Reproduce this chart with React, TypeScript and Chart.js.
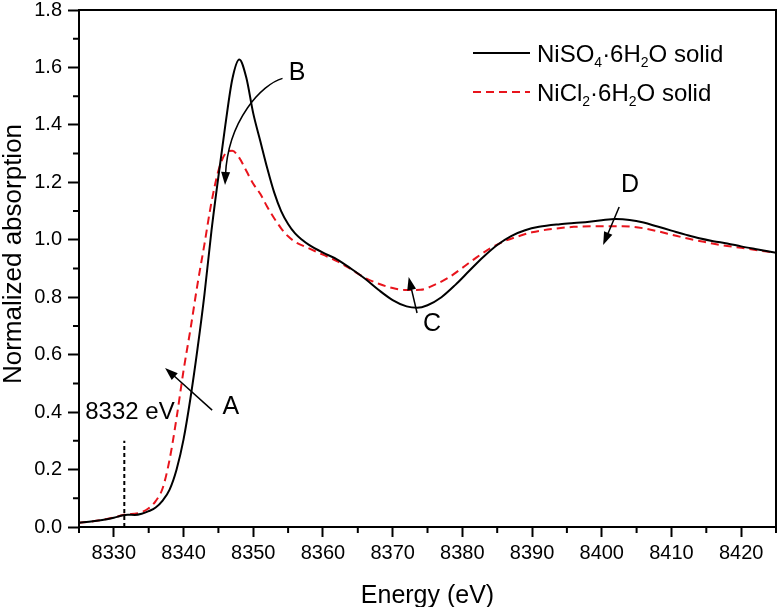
import React, { useEffect, useRef } from 'react';
import { Chart, registerables } from 'chart.js';

Chart.register(...registerables);

const FONT = '"Liberation Sans", Arial, Helvetica, sans-serif';

// ---- data ----
const niso4Energy = [8325, 8327, 8329, 8330, 8331, 8332, 8333, 8334, 8335, 8336, 8337, 8338, 8339, 8340, 8341, 8342, 8343, 8344, 8345, 8346, 8347, 8348, 8349, 8350, 8351, 8352, 8353, 8354, 8355, 8356, 8357, 8358, 8360, 8362, 8364, 8366, 8368, 8370, 8372, 8373.5, 8375, 8377, 8379, 8381, 8383, 8385, 8387, 8389, 8391, 8394, 8397, 8400, 8402, 8404, 8406, 8408, 8410, 8412, 8414, 8416, 8418, 8420, 8422, 8425];
const niso4Abs = [0.015, 0.020, 0.027, 0.032, 0.039, 0.043, 0.042, 0.046, 0.055, 0.068, 0.092, 0.13, 0.20, 0.305, 0.45, 0.62, 0.81, 1.03, 1.22, 1.40, 1.56, 1.628, 1.565, 1.44, 1.345, 1.25, 1.165, 1.10, 1.055, 1.022, 1.0, 0.982, 0.955, 0.932, 0.90, 0.865, 0.825, 0.79, 0.768, 0.763, 0.772, 0.80, 0.843, 0.892, 0.94, 0.982, 1.013, 1.033, 1.045, 1.054, 1.060, 1.068, 1.072, 1.069, 1.060, 1.046, 1.032, 1.018, 1.005, 0.995, 0.987, 0.977, 0.968, 0.955];

const nicl2Energy = [8325, 8327, 8329, 8330, 8331, 8332, 8333, 8334, 8335, 8336, 8337, 8338, 8339, 8340, 8341, 8342, 8343, 8344, 8345, 8346, 8347, 8348, 8349, 8350, 8351, 8352, 8353, 8354, 8355, 8356, 8358, 8360, 8362, 8364, 8366, 8368, 8370, 8372, 8374, 8376, 8378, 8380, 8382, 8384, 8386, 8388, 8390, 8393, 8396, 8400, 8403, 8406, 8408, 8410, 8412, 8414, 8417, 8420, 8425];
const nicl2Abs = [0.015, 0.020, 0.028, 0.033, 0.040, 0.045, 0.046, 0.052, 0.065, 0.09, 0.135, 0.235, 0.38, 0.545, 0.69, 0.845, 0.985, 1.13, 1.24, 1.30, 1.31, 1.285, 1.24, 1.195, 1.16, 1.115, 1.075, 1.04, 1.012, 0.993, 0.97, 0.948, 0.926, 0.898, 0.868, 0.847, 0.832, 0.825, 0.826, 0.843, 0.868, 0.902, 0.938, 0.97, 0.995, 1.012, 1.026, 1.038, 1.045, 1.047, 1.047, 1.04, 1.03, 1.018, 1.006, 0.996, 0.982, 0.972, 0.954];

const xMajorTicks = [8330, 8340, 8350, 8360, 8370, 8380, 8390, 8400, 8410, 8420];
const xMinorTicks = [8325, 8335, 8345, 8355, 8365, 8375, 8385, 8395, 8405, 8415, 8425];
const yMajorTicks = [0, 0.2, 0.4, 0.6, 0.8, 1.0, 1.2, 1.4, 1.6, 1.8];
const yMinorTicks = [0.1, 0.3, 0.5, 0.7, 0.9, 1.1, 1.3, 1.5, 1.7];

const seriesLabels = ['NiSO4·6H2O solid', 'NiCl2·6H2O solid'];

// annotations (data coordinates)
const straightArrows = [
  { label: 'A', lx: 8346.8, ly: 0.418, fx: 8344.1, fy: 0.407, tx: 8337.35, ty: 0.554 },
  { label: 'C', lx: 8375.65, ly: 0.707, fx: 8373.5, fy: 0.745, tx: 8372.3, ty: 0.87 },
  { label: 'D', lx: 8404.05, ly: 1.191, fx: 8402.5, fy: 1.114, tx: 8400.2, ty: 0.982 },
];
const curvedArrow = { label: 'B', lx: 8356.3, ly: 1.581, p0: [8354.2, 1.562], c1: [8351.26, 1.542], c2: [8346.38, 1.417], p3: [8345.95, 1.191] };
const edgeMarker = { x: 8331.5, y0: 0, y1: 0.30, text: '8332 eV', tx: 8325.9, ty: 0.40 };

const RED = '#e8141c';

function drawArrowHead(ctx: CanvasRenderingContext2D, x: number, y: number, angle: number) {
  const len = 13, half = 4.5;
  ctx.save();
  ctx.translate(x, y);
  ctx.rotate(angle);
  ctx.beginPath();
  ctx.moveTo(0, 0);
  ctx.lineTo(-len, -half);
  ctx.lineTo(-len, half);
  ctx.closePath();
  ctx.fill();
  ctx.restore();
}

function drawRich(ctx: CanvasRenderingContext2D, parts: { t: string; sub?: boolean }[], x: number, y: number) {
  let cx = x;
  parts.forEach((p) => {
    ctx.font = p.sub ? `14px ${FONT}` : `24px ${FONT}`;
    ctx.fillText(p.t, cx, p.sub ? y + 5 : y);
    cx += ctx.measureText(p.t).width;
  });
}

const decorPlugin = {
  id: 'decor',
  afterDraw(chart: any) {
    const { ctx, chartArea: ca, scales } = chart;
    const xs = scales.x, ys = scales.y;
    const X = (v: number) => xs.getPixelForValue(v);
    const Y = (v: number) => ys.getPixelForValue(v);
    ctx.save();
    ctx.strokeStyle = '#000';
    ctx.fillStyle = '#000';
    ctx.lineWidth = 2;
    ctx.setLineDash([]);
    // frame
    ctx.strokeRect(ca.left, ca.top, ca.right - ca.left, ca.bottom - ca.top);
    // minor ticks
    ctx.beginPath();
    xMinorTicks.forEach((v) => {
      const p = X(v);
      ctx.moveTo(p, ca.bottom);
      ctx.lineTo(p, ca.bottom + 6);
    });
    yMinorTicks.forEach((v) => {
      const p = Y(v);
      ctx.moveTo(ca.left, p);
      ctx.lineTo(ca.left - 6, p);
    });
    ctx.stroke();

    // axis titles
    ctx.font = `25px ${FONT}`;
    ctx.textAlign = 'center';
    ctx.textBaseline = 'alphabetic';
    ctx.fillText('Energy (eV)', (ca.left + ca.right) / 2, 603);
    ctx.save();
    ctx.translate(21, 254);
    ctx.rotate(-Math.PI / 2);
    ctx.font = `26px ${FONT}`;
    ctx.fillText('Normalized absorption', 0, 0);
    ctx.restore();

    // edge marker
    ctx.lineWidth = 2;
    ctx.setLineDash([4, 3]);
    ctx.beginPath();
    ctx.moveTo(X(edgeMarker.x), Y(edgeMarker.y0));
    ctx.lineTo(X(edgeMarker.x), Y(edgeMarker.y1));
    ctx.stroke();
    ctx.setLineDash([]);
    ctx.font = `24px ${FONT}`;
    ctx.textAlign = 'left';
    ctx.textBaseline = 'middle';
    ctx.fillText(edgeMarker.text, X(edgeMarker.tx), Y(edgeMarker.ty));

    // arrows
    ctx.lineWidth = 1.5;
    straightArrows.forEach((a) => {
      const fx = X(a.fx), fy = Y(a.fy), tx = X(a.tx), ty = Y(a.ty);
      const ang = Math.atan2(ty - fy, tx - fx);
      ctx.beginPath();
      ctx.moveTo(fx, fy);
      ctx.lineTo(tx - Math.cos(ang) * 10, ty - Math.sin(ang) * 10);
      ctx.stroke();
      drawArrowHead(ctx, tx, ty, ang);
      ctx.font = `25px ${FONT}`;
      ctx.textAlign = 'center';
      ctx.textBaseline = 'middle';
      ctx.fillText(a.label, X(a.lx), Y(a.ly));
    });
    {
      const b = curvedArrow;
      const p0 = [X(b.p0[0]), Y(b.p0[1])];
      const c1 = [X(b.c1[0]), Y(b.c1[1])];
      const c2 = [X(b.c2[0]), Y(b.c2[1])];
      const p3 = [X(b.p3[0]), Y(b.p3[1])];
      const ang = Math.atan2(p3[1] - c2[1], p3[0] - c2[0]);
      ctx.beginPath();
      ctx.moveTo(p0[0], p0[1]);
      ctx.bezierCurveTo(c1[0], c1[1], c2[0], c2[1], p3[0] - Math.cos(ang) * 10, p3[1] - Math.sin(ang) * 10);
      ctx.stroke();
      drawArrowHead(ctx, p3[0], p3[1], ang);
      ctx.font = `25px ${FONT}`;
      ctx.textAlign = 'center';
      ctx.textBaseline = 'middle';
      ctx.fillText(b.label, X(b.lx), Y(b.ly));
    }

    // legend
    const lx0 = ca.left + 394, lx1 = ca.left + 451, tx = ca.left + 458;
    ctx.lineWidth = 2;
    ctx.strokeStyle = '#000';
    ctx.beginPath();
    ctx.moveTo(lx0, ca.top + 43);
    ctx.lineTo(lx1, ca.top + 43);
    ctx.stroke();
    ctx.strokeStyle = RED;
    ctx.setLineDash([8, 5]);
    ctx.beginPath();
    ctx.moveTo(lx0, ca.top + 82);
    ctx.lineTo(lx1, ca.top + 82);
    ctx.stroke();
    ctx.setLineDash([]);
    ctx.fillStyle = '#000';
    ctx.textAlign = 'left';
    ctx.textBaseline = 'alphabetic';
    drawRich(ctx, [{ t: 'NiSO' }, { t: '4', sub: true }, { t: '·6H' }, { t: '2', sub: true }, { t: 'O solid' }], tx, ca.top + 52);
    drawRich(ctx, [{ t: 'NiCl' }, { t: '2', sub: true }, { t: '·6H' }, { t: '2', sub: true }, { t: 'O solid' }], tx, ca.top + 91);
    ctx.restore();
  },
};

export default function App() {
  const ref = useRef<HTMLCanvasElement | null>(null);
  useEffect(() => {
    document.body.style.margin = '0';
    const canvas = ref.current;
    if (!canvas) return;
    const chart = new Chart(canvas, {
      type: 'line',
      data: {
        datasets: [
          {
            label: seriesLabels[0],
            data: niso4Energy.map((x, i) => ({ x, y: niso4Abs[i] })),
            borderColor: '#000',
            borderWidth: 2,
            pointRadius: 0,
            cubicInterpolationMode: 'monotone',
            fill: false,
          },
          {
            label: seriesLabels[1],
            data: nicl2Energy.map((x, i) => ({ x, y: nicl2Abs[i] })),
            borderColor: RED,
            borderWidth: 2,
            borderDash: [8, 5],
            pointRadius: 0,
            cubicInterpolationMode: 'monotone',
            fill: false,
          },
        ],
      },
      options: {
        animation: false,
        responsive: false,
        devicePixelRatio: 1,
        layout: { padding: { top: 10, right: 4, left: 0, bottom: 0 } },
        plugins: { legend: { display: false }, tooltip: { enabled: false } },
        scales: {
          x: {
            type: 'linear',
            min: 8325,
            max: 8425,
            afterBuildTicks: (s: any) => {
              s.ticks = xMajorTicks.map((v) => ({ value: v }));
            },
            afterFit: (s: any) => {
              s.height = 80;
              s.paddingLeft = 0;
              s.paddingRight = 0;
            },
            border: { display: false },
            grid: { drawOnChartArea: false, drawTicks: true, tickLength: 10, tickWidth: 2, tickColor: '#000', color: '#000' },
            ticks: {
              color: '#000',
              font: { family: FONT, size: 20 },
              padding: 4,
              maxRotation: 0,
              autoSkip: false,
              callback: (v: any) => String(v),
            },
          },
          y: {
            type: 'linear',
            min: 0,
            max: 1.8,
            afterBuildTicks: (s: any) => {
              s.ticks = yMajorTicks.map((v) => ({ value: v }));
            },
            afterFit: (s: any) => {
              s.width = 79;
              s.paddingTop = 0;
              s.paddingBottom = 0;
            },
            border: { display: false },
            grid: { drawOnChartArea: false, drawTicks: true, tickLength: 11, tickWidth: 2, tickColor: '#000', color: '#000' },
            ticks: {
              color: '#000',
              font: { family: FONT, size: 20 },
              padding: 6,
              autoSkip: false,
              callback: (v: any) => Number(v).toFixed(1),
            },
          },
        },
      },
      plugins: [decorPlugin],
    });
    return () => chart.destroy();
  }, []);
  return (
    <div style={{ width: 780, height: 607 }}>
      <canvas ref={ref} width={780} height={607} />
    </div>
  );
}
